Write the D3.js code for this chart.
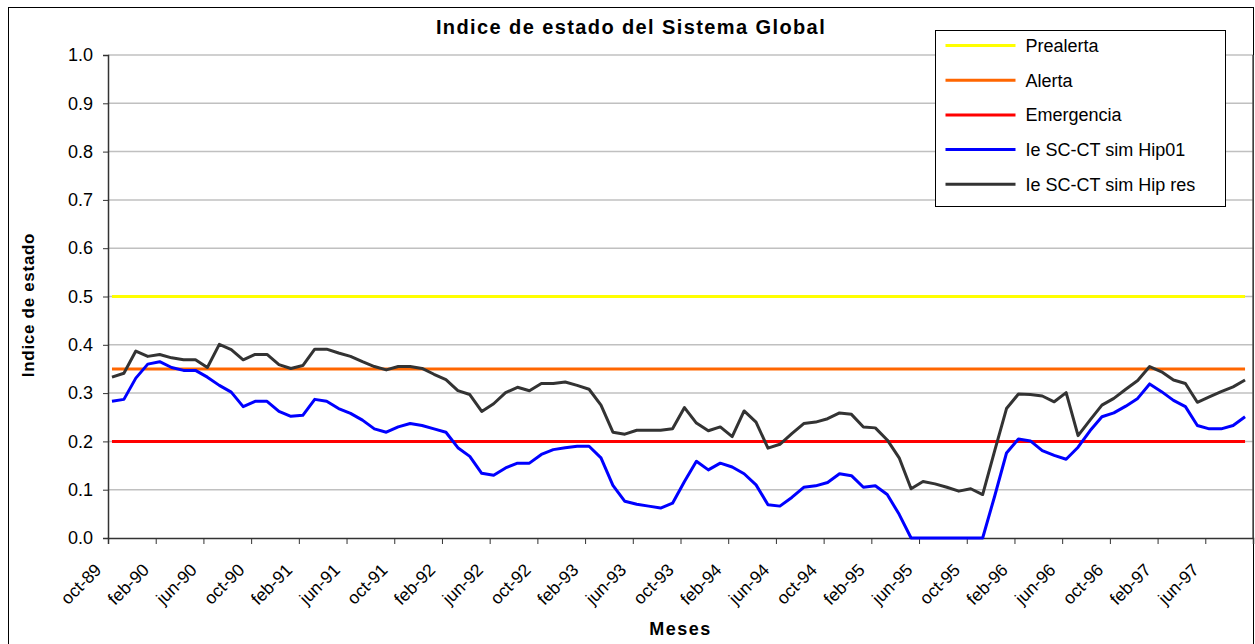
<!DOCTYPE html>
<html>
<head>
<meta charset="utf-8">
<script src="https://cdn.jsdelivr.net/npm/d3@7"></script>
<style>
  body { margin: 0; background: #fff; }
  svg { font-family: Arial, "Liberation Sans", sans-serif; }
</style>
</head>
<body>
<svg id="chart" width="1255" height="644"></svg>
<script>
// Indice de estado del Sistema Global - monthly, oct-89 .. sep-97

const tickLabels = ["oct-89", "feb-90", "jun-90", "oct-90", "feb-91", "jun-91", "oct-91", "feb-92",
  "jun-92", "oct-92", "feb-93", "jun-93", "oct-93", "feb-94", "jun-94", "oct-94",
  "feb-95", "jun-95", "oct-95", "feb-96", "jun-96", "oct-96", "feb-97", "jun-97"];

const hip01 = [0.283, 0.287, 0.331, 0.360, 0.365, 0.353, 0.347, 0.347, 0.333, 0.316, 0.302, 0.272,
  0.283, 0.283, 0.262, 0.252, 0.254, 0.287, 0.283, 0.268, 0.258, 0.244, 0.226, 0.219,
  0.230, 0.237, 0.233, 0.226, 0.219, 0.187, 0.169, 0.134, 0.130, 0.145, 0.155, 0.155,
  0.173, 0.183, 0.187, 0.190, 0.190, 0.166, 0.109, 0.076, 0.070, 0.066, 0.062, 0.072,
  0.117, 0.159, 0.141, 0.155, 0.147, 0.133, 0.110, 0.069, 0.066, 0.084, 0.105, 0.108,
  0.115, 0.133, 0.129, 0.105, 0.108, 0.090, 0.049, 0, 0, 0, 0, 0,
  0, 0, 0.086, 0.176, 0.205, 0.201, 0.181, 0.171, 0.163, 0.188, 0.222, 0.251,
  0.259, 0.273, 0.289, 0.319, 0.303, 0.285, 0.272, 0.233, 0.226, 0.226, 0.233, 0.251];

const hipRes = [0.333, 0.341, 0.387, 0.376, 0.380, 0.373, 0.369, 0.369, 0.353, 0.401, 0.390, 0.369,
  0.380, 0.380, 0.359, 0.351, 0.357, 0.391, 0.391, 0.383, 0.376, 0.365, 0.355, 0.348,
  0.355, 0.355, 0.351, 0.339, 0.328, 0.305, 0.297, 0.262, 0.278, 0.301, 0.312, 0.305,
  0.320, 0.320, 0.323, 0.316, 0.308, 0.275, 0.219, 0.215, 0.223, 0.223, 0.223, 0.226,
  0.270, 0.238, 0.222, 0.230, 0.210, 0.263, 0.240, 0.186, 0.194, 0.216, 0.237, 0.240,
  0.247, 0.259, 0.256, 0.230, 0.228, 0.203, 0.166, 0.102, 0.117, 0.112, 0.105, 0.097,
  0.102, 0.090, 0.180, 0.268, 0.298, 0.297, 0.294, 0.282, 0.301, 0.212, 0.244, 0.275,
  0.289, 0.308, 0.326, 0.355, 0.344, 0.327, 0.320, 0.281, 0.292, 0.303, 0.313, 0.327];

// threshold series (constant levels)
const thresholdNames = ["Prealerta", "Alerta", "Emergencia"];
const thresholdValues = [0.5, 0.35, 0.2];

const legendNames = ["Prealerta", "Alerta", "Emergencia", "Ie SC-CT sim Hip01", "Ie SC-CT sim Hip res"];
const colors = {
  "Prealerta": "#ffff00",
  "Alerta": "#ff6600",
  "Emergencia": "#ff0000",
  "Ie SC-CT sim Hip01": "#0000ff",
  "Ie SC-CT sim Hip res": "#333333"
};

// Layout
const width = 1255, height = 644;
const plot = { left: 108, right: 1253, top: 55, bottom: 538 };
const nMonths = hip01.length;
const dayOffset = 1 / 3; // points sit ~10 days into each month
const fontFamily = "Arial, 'Liberation Sans', sans-serif";

const svg = d3.select("#chart");

// chart border
svg.append("rect")
  .attr("x", 8.5).attr("y", 7.5)
  .attr("width", 1245).attr("height", 660)
  .attr("fill", "none")
  .attr("stroke", "#000")
  .attr("stroke-width", 1);

const x = d3.scaleLinear().domain([0, nMonths]).range([plot.left, plot.right]);
const y = d3.scaleLinear().domain([0, 1]).range([plot.bottom, plot.top]);

// gridlines
svg.append("g")
  .selectAll("line")
  .data(d3.range(1, 11).map(d => d / 10))
  .join("line")
  .attr("x1", plot.left).attr("x2", plot.right)
  .attr("y1", d => y(d)).attr("y2", d => y(d))
  .attr("stroke", "#c0c0c0")
  .attr("stroke-width", 1.5);

// right edge line
svg.append("line")
  .attr("x1", plot.right).attr("x2", plot.right)
  .attr("y1", plot.top).attr("y2", plot.bottom)
  .attr("stroke", "#555").attr("stroke-width", 1.5);

// Y axis
const yAxis = d3.axisLeft(y)
  .tickValues(d3.range(0, 11).map(d => d / 10))
  .tickFormat(d3.format(".1f"))
  .tickSizeOuter(0)
  .tickSize(5)
  .tickPadding(10);

const yG = svg.append("g")
  .attr("transform", `translate(${plot.left},0)`)
  .call(yAxis);
yG.select(".domain").attr("stroke", "#333").attr("stroke-width", 1.5);
yG.selectAll(".tick line").attr("stroke", "#333");
yG.selectAll("text").attr("font-size", 18).attr("fill", "#000")
  .attr("font-family", fontFamily);

// X axis
const xAxis = d3.axisBottom(x)
  .tickValues(d3.range(0, nMonths + 1, 4))
  .tickFormat((d, i) => tickLabels[i] || "")
  .tickSizeOuter(0)
  .tickSize(6);

const xG = svg.append("g")
  .attr("transform", `translate(0,${plot.bottom})`)
  .call(xAxis);
xG.select(".domain").attr("stroke", "#333").attr("stroke-width", 1.5);
xG.selectAll(".tick line").attr("stroke", "#333");
xG.selectAll("text")
  .attr("font-size", 17.5).attr("fill", "#000")
  .attr("font-family", fontFamily)
  .attr("text-anchor", "end")
  .attr("dy", null)
  .attr("y", 0)
  .attr("transform", "translate(-6,33) rotate(-45)");

// threshold lines
thresholdNames.forEach((name, k) => {
  svg.append("line")
    .attr("x1", x(dayOffset)).attr("x2", x(nMonths - 1 + dayOffset))
    .attr("y1", y(thresholdValues[k])).attr("y2", y(thresholdValues[k]))
    .attr("stroke", colors[name])
    .attr("stroke-width", 3);
});

// series
const line = d3.line()
  .x((d, i) => x(i + dayOffset))
  .y(d => y(d));

[["Ie SC-CT sim Hip01", hip01], ["Ie SC-CT sim Hip res", hipRes]].forEach(([name, values]) => {
  svg.append("path")
    .datum(values)
    .attr("d", line)
    .attr("fill", "none")
    .attr("stroke", colors[name])
    .attr("stroke-width", 3)
    .attr("stroke-linejoin", "round");
});

// Title
svg.append("text")
  .attr("x", 631).attr("y", 34)
  .attr("text-anchor", "middle")
  .attr("font-size", 20)
  .attr("font-weight", "bold")
  .attr("letter-spacing", 1.4)
  .text("Indice de estado del Sistema Global");

// Axis titles
svg.append("text")
  .attr("transform", "translate(34,305) rotate(-90)")
  .attr("text-anchor", "middle")
  .attr("font-size", 17)
  .attr("font-weight", "bold")
  .attr("letter-spacing", 0.7)
  .text("Indice de estado");

svg.append("text")
  .attr("x", (plot.left + plot.right) / 2).attr("y", 635)
  .attr("text-anchor", "middle")
  .attr("font-size", 18)
  .attr("font-weight", "bold")
  .attr("letter-spacing", 1.5)
  .text("Meses");

// Legend
const legend = svg.append("g").attr("transform", "translate(935.5,30.5)");
legend.append("rect")
  .attr("width", 290).attr("height", 176)
  .attr("fill", "#fff")
  .attr("stroke", "#000").attr("stroke-width", 1);

legendNames.forEach((name, i) => {
  const ly = 15 + i * 34.7;
  legend.append("line")
    .attr("x1", 10).attr("x2", 80)
    .attr("y1", ly).attr("y2", ly)
    .attr("stroke", colors[name])
    .attr("stroke-width", 3);
  legend.append("text")
    .attr("x", 90).attr("y", ly)
    .attr("dy", "0.35em")
    .attr("font-size", 18)
    .text(name);
});
</script>
</body>
</html>
